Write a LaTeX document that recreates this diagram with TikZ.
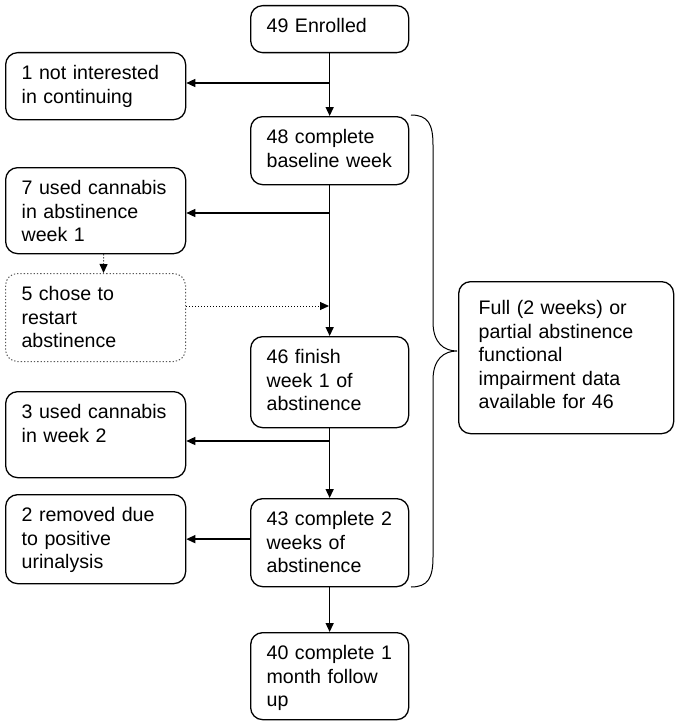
\documentclass[tikz,border=0pt]{standalone}
\usepackage{fontspec}
\setmainfont{Liberation Sans}
\usetikzlibrary{arrows.meta}

\begin{document}
\begin{tikzpicture}[x=1pt, y=-1pt,
  stage/.style={draw, rectangle, rounded corners=12pt, anchor=north west, align=left,
    inner xsep=16pt, inner ysep=0pt, text height=27pt, line width=1.3pt,
    font=\fontsize{19.6}{23.5}\selectfont},
  side/.style={stage, text width=148pt},
  spine/.style={stage, text width=126pt},
  arr/.style={-{Triangle[length=9pt,width=8pt]}, line width=1.4pt},
  dotarr/.style={-{Triangle[length=9pt,width=8pt]}, dotted, line width=1pt}]
\useasboundingbox (0,0) rectangle (678,725);

% Main column
\node[spine, text depth=20pt] (enrolled) at (250,5) {49 Enrolled};
\node[spine, text depth=41pt] (baseline) at (250,116) {48 complete\\baseline week};
\node[spine, text depth=64pt] (week1) at (250,336) {46 finish\\week 1 of\\abstinence};
\node[spine, text depth=61pt] (week2) at (250,498) {43 complete 2\\weeks of\\abstinence};
\node[spine, text depth=60pt] (month) at (250,632) {40 complete 1\\month follow\\up};

% Drop-outs
\node[side, text depth=40pt] (notint) at (5,52) {1 not interested\\in continuing};
\node[side, text depth=59pt] (used1) at (5,167) {7 used cannabis\\in abstinence\\week 1};
\node[side, text depth=61pt, draw=black!65, dotted, line width=1pt] (restart) at (5,273) {5 chose to\\restart\\abstinence};
\node[side, text depth=59pt] (used2) at (5,391) {3 used cannabis\\in week 2};
\node[side, text depth=62pt] (removed) at (5,494) {2 removed due\\to positive\\urinalysis};

% Side note
\node[stage, inner xsep=20pt, text width=175pt, text height=33pt, text depth=119pt] (full) at (458,281)
  {Full (2 weeks) or\\partial abstinence\\functional\\impairment data\\available for 46};

% Branch points
\coordinate (b1) at (329,83);
\coordinate (b2) at (329,213);
\coordinate (b3) at (329,306);
\coordinate (b4) at (329,441);

% Arrows
\draw[arr] (enrolled.south) -- (baseline.north);
\draw[arr] (baseline.south) -- (week1.north);
\draw[arr] (week1.south) -- (week2.north);
\draw[arr] (week2.south) -- (month.north);
\draw[arr] (b1) -- (b1 -| notint.east);
\draw[arr] (b2) -- (b2 -| used1.east);
\draw[arr] (b4) -- (b4 -| used2.east);
\draw[arr] (removed.east -| week2.west) -- (removed.east);
\draw[dotarr] ([xshift=8pt]used1.south) -- ([xshift=8pt]restart.north);
\draw[dotarr] (b3 -| restart.east) -- (b3);

% Brace
\draw[line width=1pt] (411,115) .. controls (428,115) and (433,124) .. (433,145) -- (433,322)
  .. controls (433,343) and (444,351) .. (457,351)
  .. controls (444,351) and (433,359) .. (433,380) -- (433,557)
  .. controls (433,578) and (428,587) .. (411,587);
\end{tikzpicture}
\end{document}
